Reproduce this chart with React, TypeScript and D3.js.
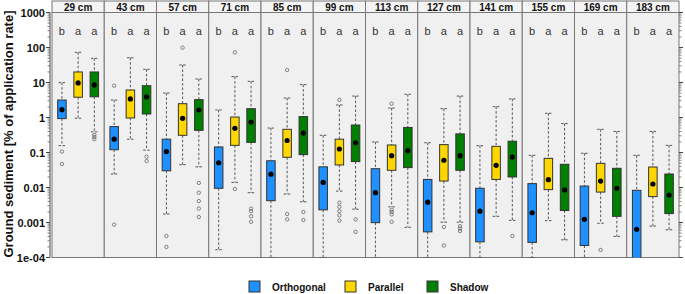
import React from "react";
import * as d3 from "d3";

const panels = ["29 cm", "43 cm", "57 cm", "71 cm", "85 cm", "99 cm", "113 cm", "127 cm", "141 cm", "155 cm", "169 cm", "183 cm"];
const seriesNames = ["Orthogonal", "Parallel", "Shadow"];
const seriesColors = ["#1E90FF", "#FFD700", "#008000"];
const groupLetters = ["b", "a", "a"];
const yTickValues = [1000, 100, 10, 1, 0.1, 0.01, 0.001, 0.0001];
const yTickLabels = ["1000", "100", "10", "1", "0.1", "0.01", "0.001", "1e-04"];

// [whisker low, Q1, dot, Q3, whisker high]
const orthogonalStats = [
  [0.157, 0.93, 1.67, 3.16, 9.9],
  [0.0243, 0.12, 0.24, 0.55, 3.16],
  [0.00175, 0.03, 0.106, 0.24, 5.0],
  [0.000167, 0.0095, 0.051, 0.144, 1.64],
  [0.0001, 0.0042, 0.024, 0.058, 0.5],
  [0.0001, 0.0023, 0.014, 0.039, 0.31],
  [0.0001, 0.00099, 0.0071, 0.0345, 0.2],
  [0.0001, 0.00054, 0.0038, 0.017, 0.19],
  [0.0001, 0.00028, 0.0021, 0.0095, 0.157],
  [0.0001, 0.00027, 0.0019, 0.0129, 0.083],
  [0.0001, 0.00022, 0.00123, 0.011, 0.095],
  [0.00008, 0.00008, 0.00064, 0.0083, 0.083],
];
const parallelStats = [
  [0.95, 3.8, 9.7, 20, 72.8],
  [0.24, 0.97, 3.4, 6.1, 51],
  [0.045, 0.31, 0.95, 2.48, 31.6],
  [0.014, 0.16, 0.49, 1.03, 14.7],
  [0.0065, 0.073, 0.22, 0.46, 3.6],
  [0.0079, 0.044, 0.126, 0.24, 2.28],
  [0.0028, 0.031, 0.081, 0.164, 1.86],
  [0.00102, 0.0153, 0.06, 0.168, 1.79],
  [0.0015, 0.017, 0.043, 0.15, 2.04],
  [0.00113, 0.0087, 0.0167, 0.068, 1.32],
  [0.00095, 0.0074, 0.0153, 0.049, 0.46],
  [0.00079, 0.0055, 0.0126, 0.0385, 0.4],
];
const shadowStats = [
  [0.39, 3.9, 8.5, 20, 49],
  [0.117, 1.26, 3.86, 8.1, 23.8],
  [0.039, 0.43, 1.64, 3.24, 12.6],
  [0.0071, 0.195, 0.74, 1.79, 10.8],
  [0.0039, 0.087, 0.36, 1.06, 8.7],
  [0.0024, 0.055, 0.19, 0.61, 4.1],
  [0.00073, 0.037, 0.113, 0.52, 4.6],
  [0.00102, 0.031, 0.081, 0.34, 4.1],
  [0.00115, 0.02, 0.074, 0.21, 3.4],
  [0.00032, 0.0022, 0.0085, 0.046, 0.67],
  [0.0004, 0.0015, 0.0095, 0.0353, 0.4],
  [0.00062, 0.0018, 0.0061, 0.0243, 0.16],
];
const orthogonalOutliers = [
  [0.106, 0.047],
  [8.1, 0.00087],
  [0.00041, 0.0002],
  [],
  [],
  [],
  [],
  [],
  [],
  [],
  [],
  [],
];
const parallelOutliers = [
  [],
  [],
  [99],
  [72.8, 0.0091],
  [22.7, 0.00175, 0.00123],
  [3.2, 0.0037, 0.0028, 0.0021, 0.0016, 0.00114],
  [2.48, 0.0023, 0.002, 0.0017, 0.00105],
  [0.00074, 0.00022],
  [],
  [],
  [0.000164],
  [],
];
const shadowOutliers = [
  [0.32, 0.28, 0.24],
  [0.076, 0.057],
  [0.0135, 0.0071, 0.0041, 0.0025, 0.00144],
  [0.0025, 0.0021, 0.0015, 0.00105],
  [0.002, 0.00118],
  [0.00123, 0.00054],
  [],
  [0.00079, 0.00067, 0.00057],
  [0.00041],
  [],
  [],
  [],
];

const allStats = [orthogonalStats, parallelStats, shadowStats];
const allOutliers = [orthogonalOutliers, parallelOutliers, shadowOutliers];

const W = 685;
const H = 294;
const left = 52;
const right = 679;
const stripTop = 1;
const plotTop = 12.5;
const plotBottom = 257.5;
const font = "'Liberation Sans', Arial, sans-serif";

export default function App() {
  const y = d3.scaleLog().domain([0.0001, 1000]).range([plotBottom, plotTop]);
  const px = d3.scaleBand<string>().domain(panels).range([left, right]);
  const pw = px.bandwidth();
  const bx = d3.scaleBand<string>().domain(seriesNames).range([0, pw]).paddingInner(0.475).paddingOuter(0.35);
  const bw = bx.bandwidth();

  const minorTicks: number[] = [];
  for (let e = -4; e < 3; e++) {
    for (let m = 2; m <= 9; m++) minorTicks.push(m * Math.pow(10, e));
  }

  return (
    <svg width={W} height={H} style={{ position: "absolute", left: 0, top: 0, fontFamily: font }}>
      <defs>
        <clipPath id="plotclip">
          <rect x={left} y={plotTop} width={right - left} height={plotBottom - plotTop} />
        </clipPath>
      </defs>
      <rect x={0} y={0} width={W} height={H} fill="#fff" />
      {/* panels */}
      {panels.map((p) => (
        <g key={p}>
          <rect x={px(p)} y={plotTop} width={pw} height={plotBottom - plotTop} fill="#f0f0f0" stroke="#777" strokeWidth={1} />
          <rect x={px(p)} y={stripTop} width={pw} height={plotTop - stripTop} fill="#f4f4f4" stroke="#777" strokeWidth={1} />
          <text x={(px(p) as number) + pw / 2} y={plotTop - 2} textAnchor="middle" fontSize={10} fontWeight="bold" fill="#111">
            {p}
          </text>
          {groupLetters.map((l, i) => (
            <text key={i} x={(px(p) as number) + (bx(seriesNames[i]) as number) + bw / 2} y={35} textAnchor="middle" fontSize={11} fill="#333">
              {l}
            </text>
          ))}
        </g>
      ))}
      {/* boxes */}
      <g clipPath="url(#plotclip)">
        {panels.map((p, pi) =>
          seriesNames.map((s, si) => {
            const [lo, q1, mid, q3, hi] = allStats[si][pi];
            const x0 = (px(p) as number) + (bx(s) as number);
            const cx = x0 + bw / 2;
            const capW = bw * 0.8;
            return (
              <g key={p + s}>
                <line x1={cx} x2={cx} y1={y(hi)} y2={y(q3)} stroke="#555" strokeWidth={1} strokeDasharray="2.5,2" />
                <line x1={cx} x2={cx} y1={y(q1)} y2={y(lo)} stroke="#555" strokeWidth={1} strokeDasharray="2.5,2" />
                <line x1={cx - capW / 2} x2={cx + capW / 2} y1={y(hi)} y2={y(hi)} stroke="#555" strokeWidth={1} strokeDasharray="2.5,1.5" />
                <line x1={cx - capW / 2} x2={cx + capW / 2} y1={y(lo)} y2={y(lo)} stroke="#555" strokeWidth={1} strokeDasharray="2.5,1.5" />
                <rect x={x0} y={y(q3)} width={bw} height={y(q1) - y(q3)} fill={seriesColors[si]} stroke="#333" strokeWidth={1} />
                <circle cx={cx} cy={y(mid)} r={2.6} fill="#000" />
                {allOutliers[si][pi].map((o, oi) => (
                  <circle key={oi} cx={cx} cy={y(o)} r={1.7} fill="none" stroke="#666" strokeWidth={0.8} />
                ))}
              </g>
            );
          })
        )}
      </g>
      {/* left axis */}
      <line x1={50} x2={50} y1={plotTop} y2={plotBottom} stroke="#444" strokeWidth={1} />
      {yTickValues.map((v, i) => (
        <g key={v}>
          <line x1={46} x2={50} y1={y(v)} y2={y(v)} stroke="#444" />
          <text x={45} y={y(v) + 4} textAnchor="end" fontSize={11} fontWeight="bold" fill="#111">
            {yTickLabels[i]}
          </text>
        </g>
      ))}
      {minorTicks.map((v) => (
        <line key={"lm" + v} x1={47.5} x2={50} y1={y(v)} y2={y(v)} stroke="#666" strokeWidth={0.8} />
      ))}
      {/* right ticks */}
      {yTickValues.map((v) => (
        <line key={"r" + v} x1={right} x2={right + 4} y1={y(v)} y2={y(v)} stroke="#444" />
      ))}
      {minorTicks.map((v) => (
        <line key={"rm" + v} x1={right} x2={right + 2.5} y1={y(v)} y2={y(v)} stroke="#666" strokeWidth={0.8} />
      ))}
      {/* y label */}
      <text transform={`translate(13,${134}) rotate(-90)`} textAnchor="middle" fontSize={13} fontWeight="bold" fill="#111">
        Ground sediment [% of application rate]
      </text>
      {/* legend */}
      {seriesNames.map((s, i) => {
        const lx = [249, 345, 427][i];
        return (
          <g key={s}>
            <rect x={lx} y={281} width={11} height={11} fill={seriesColors[i]} stroke="#333" strokeWidth={1} />
            <text x={lx + 23} y={290.5} fontSize={10} fontWeight="bold" fill="#111">
              {s}
            </text>
          </g>
        );
      })}
    </svg>
  );
}
